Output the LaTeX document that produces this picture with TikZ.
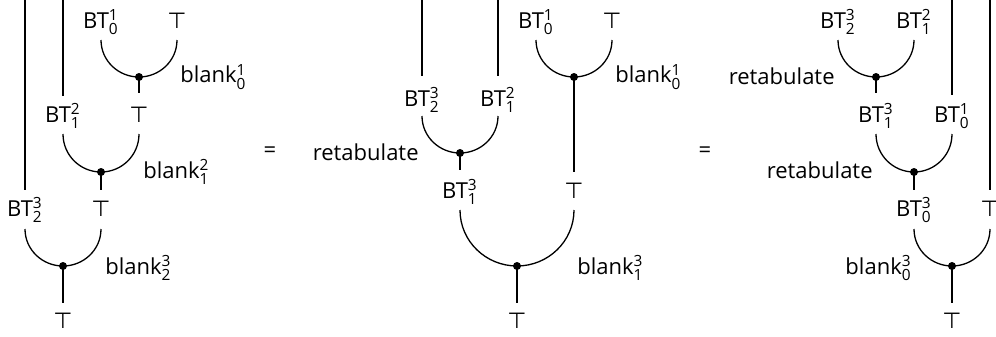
\documentclass[tikz,border=0pt]{standalone}
\usepackage{amsmath}
\usepackage{fontspec}
\setmainfont{Open Sans}
\newfontfamily\symfont{DejaVu Sans}
\newcommand{\BTx}[2]{BT$^{\text{#1}}_{\text{#2}}$}
\newcommand{\blankx}[2]{blank$^{\text{#1}}_{\text{#2}}$}
\newcommand{\topx}{{\symfont ⊤}}
\newcommand{\cupw}[3]{\draw[wire] (#1) to[out=-90,in=180] (#2.center) to[out=0,in=-90] (#3);}
\begin{document}
\begin{tikzpicture}[x=0.5pt,y=-0.5pt,
  wire/.style={line width=0.65pt},
  jdot/.style={circle,fill,inner sep=0pt,minimum size=4pt},
  lab/.style={anchor=base,inner sep=0pt,font=\fontsize{11}{13}\selectfont},
  labr/.style={lab,anchor=base west},
  labl/.style={lab,anchor=base east}]
\useasboundingbox (0,0) rectangle (996,337);

% ---------------- diagram 1 ----------------
\coordinate (a1t) at (25,0);  \coordinate (a1b) at (25,190);
\coordinate (b1t) at (63,0);  \coordinate (b1b) at (63,96);
\draw[wire] (a1t) -- (a1b);
\draw[wire] (b1t) -- (b1b);
% level 1
\node[lab] (l1a) at (101,28) {\BTx{1}{0}};
\node[lab] (l1b) at (177,28) {\topx};
\coordinate (c1a) at (101,40); \coordinate (c1b) at (177,40);
\node[jdot] (d1a) at (139,77) {};
\cupw{c1a}{d1a}{c1b}
\node[labr] (k1a) at (180,83) {\blankx{1}{0}};
\coordinate (s1a) at (139,93);
\draw[wire] (d1a.center) -- (s1a);
% level 2
\node[lab] (l1c) at (63,122) {\BTx{2}{1}};
\node[lab] (l1d) at (139,122) {\topx};
\coordinate (c1c) at (63,134); \coordinate (c1d) at (139,134);
\node[jdot] (d1b) at (101,172) {};
\cupw{c1c}{d1b}{c1d}
\node[labr] (k1b) at (143,178) {\blankx{2}{1}};
\coordinate (s1b) at (101,190);
\draw[wire] (d1b.center) -- (s1b);
% level 3
\node[lab] (l1e) at (25,216) {\BTx{3}{2}};
\node[lab] (l1f) at (101,216) {\topx};
\coordinate (c1e) at (25,229); \coordinate (c1f) at (101,229);
\node[jdot] (d1c) at (63,266) {};
\cupw{c1e}{d1c}{c1f}
\node[labr] (k1c) at (105,274) {\blankx{3}{2}};
\coordinate (s1c) at (63,303);
\draw[wire] (d1c.center) -- (s1c);
\node[lab] (l1g) at (63,328) {\topx};

\node[lab] (eq1) at (270,157) {=};

% ---------------- diagram 2 ----------------
\coordinate (a2t) at (422,0); \coordinate (a2b) at (422,76);
\coordinate (b2t) at (498,0); \coordinate (b2b) at (498,76);
\draw[wire] (a2t) -- (a2b);
\draw[wire] (b2t) -- (b2b);
\node[lab] (l2a) at (536,28) {\BTx{1}{0}};
\node[lab] (l2b) at (612,28) {\topx};
\coordinate (c2a) at (536,40); \coordinate (c2b) at (612,40);
\node[jdot] (d2a) at (574,77) {};
\cupw{c2a}{d2a}{c2b}
\node[labr] (k2a) at (615,83) {\blankx{1}{0}};
\coordinate (s2a) at (574,172);
\draw[wire] (d2a.center) -- (s2a);
\node[lab] (l2c) at (422,106) {\BTx{3}{2}};
\node[lab] (l2d) at (498,106) {\BTx{2}{1}};
\coordinate (c2c) at (422,116); \coordinate (c2d) at (498,116);
\node[jdot] (d2b) at (460,153) {};
\cupw{c2c}{d2b}{c2d}
\node[labl] (r2a) at (419,160) {retabulate};
\coordinate (s2b) at (460,170);
\draw[wire] (d2b.center) -- (s2b);
\node[lab] (l2e) at (460,198) {\BTx{3}{1}};
\node[lab] (l2f) at (574,198) {\topx};
\coordinate (c2e) at (460,210); \coordinate (c2f) at (574,210);
\node[jdot] (d2c) at (517,266) {};
\cupw{c2e}{d2c}{c2f}
\node[labr] (k2b) at (577,274) {\blankx{3}{1}};
\coordinate (s2c) at (517,303);
\draw[wire] (d2c.center) -- (s2c);
\node[lab] (l2g) at (517,328) {\topx};

\node[lab] (eq2) at (705,157) {=};

% ---------------- diagram 3 ----------------
\node[lab] (l3a) at (838,28) {\BTx{3}{2}};
\node[lab] (l3b) at (914,28) {\BTx{2}{1}};
\coordinate (c3a) at (838,40); \coordinate (c3b) at (914,40);
\node[jdot] (d3a) at (876,77) {};
\cupw{c3a}{d3a}{c3b}
\node[labl] (r3a) at (835,84) {retabulate};
\coordinate (s3a) at (876,93);
\draw[wire] (d3a.center) -- (s3a);
\coordinate (a3t) at (952,0); \coordinate (a3b) at (952,95);
\coordinate (b3t) at (990,0); \coordinate (b3b) at (990,190);
\draw[wire] (a3t) -- (a3b);
\draw[wire] (b3t) -- (b3b);
\node[lab] (l3c) at (876,122) {\BTx{3}{1}};
\node[lab] (l3d) at (952,122) {\BTx{1}{0}};
\coordinate (c3c) at (876,134); \coordinate (c3d) at (952,134);
\node[jdot] (d3b) at (914,172) {};
\cupw{c3c}{d3b}{c3d}
\node[labl] (r3b) at (873,178) {retabulate};
\coordinate (s3b) at (914,190);
\draw[wire] (d3b.center) -- (s3b);
\node[lab] (l3e) at (914,216) {\BTx{3}{0}};
\node[lab] (l3f) at (990,216) {\topx};
\coordinate (c3e) at (914,229); \coordinate (c3f) at (990,229);
\node[jdot] (d3c) at (952,266) {};
\cupw{c3e}{d3c}{c3f}
\node[labl] (k3a) at (912,274) {\blankx{3}{0}};
\coordinate (s3c) at (952,303);
\draw[wire] (d3c.center) -- (s3c);
\node[lab] (l3g) at (952,328) {\topx};
\end{tikzpicture}
\end{document}
